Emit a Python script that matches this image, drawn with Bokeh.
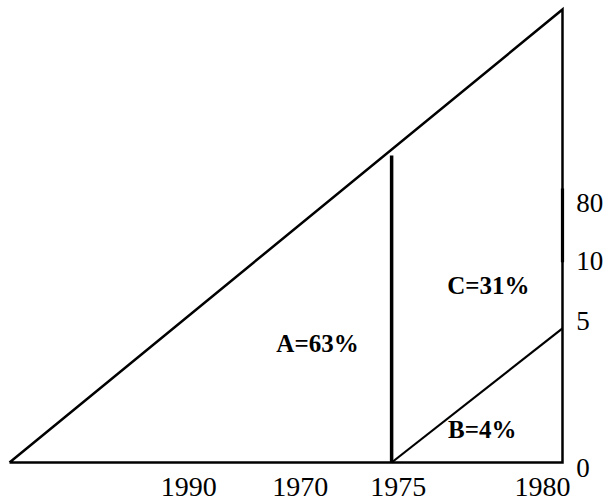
from bokeh.plotting import figure
from bokeh.models import ColumnDataSource, Range1d
from bokeh.core.properties import value
from bokeh.embed import file_html
from bokeh.resources import INLINE

# Diagram units: x 0..100 (left vertex .. right edge), y 0..100 (base .. apex)
outer_x = [0, 100, 100, 0]
outer_y = [0, 0, 100, 0]

divider_x = [69.1, 69.1]
divider_y = [0, 67.8]

small_x = [69.1, 100]
small_y = [0, 29.6]

break_x = [100, 100]
break_y = [44.2, 60.5]

# tick labels (schematic positions)
xtick_labels = ["1990", "1970", "1975", "1980"]
xtick_pos = [32.4, 52.6, 70.3, 96.4]
xtick_y = [-5.5, -5.5, -5.5, -5.5]

ytick_labels = ["80", "10", "5", "0"]
ytick_pos = [57.2, 44.4, 31.3, -1.3]
ytick_x = [102.5, 102.5, 102.5, 102.5]

# region labels
region_labels = ["A=63%", "B=4%", "C=31%"]
region_x = [55.7, 85.5, 86.6]
region_y = [26.3, 7.3, 39.1]

p = figure(width=609, height=504, output_backend="svg", toolbar_location=None,
           x_range=Range1d(-1.627, 108.50), y_range=Range1d(-9.27, 101.99),
           x_axis_type=None, y_axis_type=None, min_border=0)
p.grid.visible = False
p.outline_line_color = None
p.background_fill_color = "white"
p.border_fill_color = "white"

p.line(outer_x, outer_y, line_color="black", line_width=2.5, line_join="miter")
p.line(divider_x, divider_y, line_color="black", line_width=3.5)
p.line(small_x, small_y, line_color="black", line_width=2.2)
p.line(break_x, break_y, line_color="black", line_width=3.2)

xs = ColumnDataSource(dict(x=xtick_pos, y=xtick_y, t=xtick_labels))
p.text(x="x", y="y", text="t", source=xs, text_align="center", text_baseline="middle",
       text_font=value("Liberation Serif"), text_font_size="28px", text_color="black")

ys = ColumnDataSource(dict(x=ytick_x, y=ytick_pos, t=ytick_labels))
p.text(x="x", y="y", text="t", source=ys, text_align="left", text_baseline="middle",
       text_font=value("Liberation Serif"), text_font_size="27px", text_color="black")

rs = ColumnDataSource(dict(x=region_x, y=region_y, t=region_labels))
p.text(x="x", y="y", text="t", source=rs, text_align="center", text_baseline="middle",
       text_font=value("Liberation Serif"), text_font_size="25px", text_font_style="bold",
       text_color="black")

open("out.html", "w").write(file_html(p, INLINE))
